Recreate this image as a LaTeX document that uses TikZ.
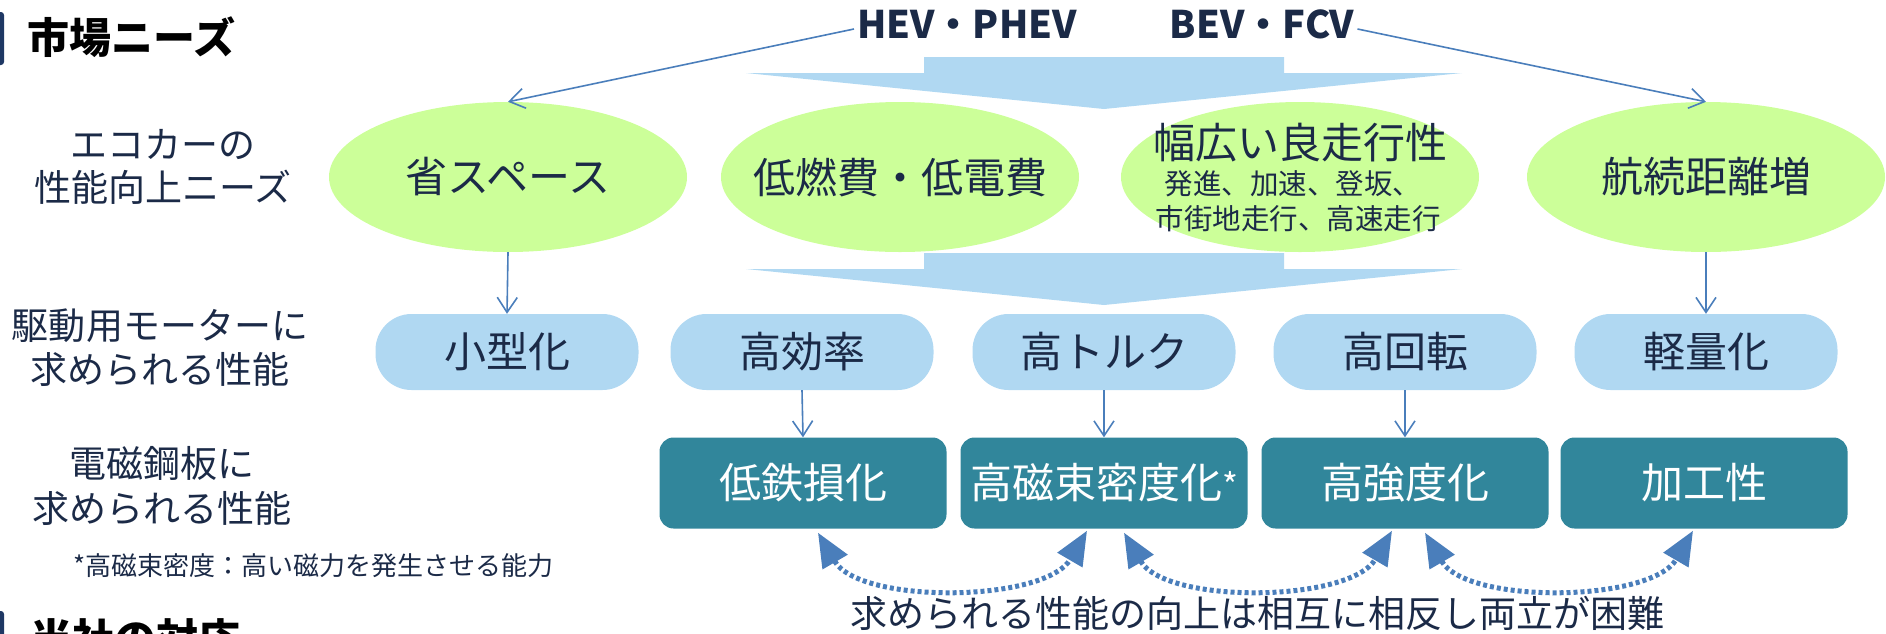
\documentclass[tikz,border=0pt]{standalone}
\usepackage{fontspec}
\setmainfont{Noto Sans CJK JP}
\usetikzlibrary{arrows.meta,shapes.geometric}
\definecolor{txt}{HTML}{1B2A47}
\definecolor{lgreen}{HTML}{CCFF99}
\definecolor{lblue}{HTML}{B0D8F2}
\definecolor{tealbox}{HTML}{31869B}
\definecolor{lineblue}{HTML}{4A7EBB}
\definecolor{barblue}{HTML}{1F3864}
\newcommand{\fsz}[2]{\fontsize{#1}{#2}\selectfont}
\begin{document}
\begin{tikzpicture}[x=1pt,y=-1pt,
  ell/.style={ellipse, fill=lgreen, minimum width=358pt, minimum height=150pt, inner sep=0pt, text=txt, font={\fsz{42}{50}}},
  pill/.style={rectangle, rounded corners=36pt, fill=lblue, minimum width=263pt, minimum height=76pt, inner sep=0pt, text=txt, font={\fsz{42}{50}}},
  tbox/.style={rectangle, rounded corners=14pt, fill=tealbox, minimum width=287pt, minimum height=91pt, inner sep=0pt, text=white, font={\fsz{42}{50}}},
  conn/.style={draw=lineblue, line width=1.6pt, -{Straight Barb[length=15pt,width=20pt]}},
  dotarr/.style={draw=lineblue, line width=5pt, dash pattern=on 4pt off 3pt, {Triangle[length=34pt,width=28pt]}-{Triangle[length=34pt,width=28pt]}},
  lbl/.style={text=txt, font={\fsz{37}{43}}, align=center, inner sep=0pt},
  bigarrow/.style={fill=lblue}
]
\useasboundingbox (0,0) rectangle (1886,633);

% heading bars
\fill[barblue, rounded corners=3pt] (-10,12) rectangle (4,65);
\node[anchor=west, inner sep=0pt, font={\fsz{42}{50}\bfseries}, text=black] (head1) at (27,37) {市場ニーズ};
\begin{scope}
\clip (0,0) rectangle (1886,633);
\fill[barblue, rounded corners=3pt] (-10,611) rectangle (4,670);
\node[anchor=west, inner sep=0pt, font={\fsz{42}{50}\bfseries}, text=black] (head2) at (30,639) {当社の対応};
\end{scope}

% big arrows
\fill[bigarrow] (924,57) -- (1284,57) -- (1284,73) -- (1462,73) -- (1104,109) -- (746,73) -- (924,73) -- cycle;
\fill[bigarrow] (924,253) -- (1284,253) -- (1284,269) -- (1462,269) -- (1104,305) -- (746,269) -- (924,269) -- cycle;

% top labels
\node[font={\fsz{38}{46}\bfseries}, text=txt, inner sep=3pt] (hev) at (967,24) {HEV・PHEV};
\node[font={\fsz{38}{46}\bfseries}, text=txt, inner sep=3pt] (bev) at (1262,24) {BEV・FCV};

% ellipses
\node[ell] (e1) at (508,177) {省スペース};
\node[ell] (e2) at (900,177) {\makebox[0pt]{低燃費・低電費}};
\node[ell] (e3) at (1300,177) {};
\node[ell] (e4) at (1706,177) {\makebox[0pt]{航続距離増}};
\node[text=txt, font={\fsz{42}{50}}, inner sep=0pt] (t3a) at (1300,143) {幅広い良走行性};
\node[text=txt, font={\fsz{28.5}{34}}, inner sep=0pt] (t3b) at (1293,184) {発進、加速、登坂、};
\node[text=txt, font={\fsz{28.5}{34}}, inner sep=0pt] (t3c) at (1298,219) {市街地走行、高速走行};

% pills
\node[pill] (p1) at (507,352) {小型化};
\node[pill] (p2) at (802,352) {高効率};
\node[pill] (p3) at (1104,352) {高トルク};
\node[pill] (p4) at (1405,352) {高回転};
\node[pill] (p5) at (1706,352) {軽量化};

% teal boxes
\node[tbox] (b1) at (803,483) {低鉄損化};
\node[tbox] (b2) at (1104,483) {高磁束密度化{\fsz{34}{40}*}};
\node[tbox] (b3) at (1405,483) {高強度化};
\node[tbox] (b4) at (1704,483) {加工性};

% left labels
\node[lbl] (l1) at (163,167) {エコカーの\\性能向上ニーズ};
\node[lbl, font={\fsz{37}{44}}] (l2) at (160,348) {駆動用モーターに\\求められる性能};
\node[lbl, font={\fsz{37}{45}}] (l3) at (162,486) {電磁鋼板に\\求められる性能};
\node[anchor=west, inner sep=0pt, text=txt, font={\fsz{26}{30}}] (foot) at (73,566) {*高磁束密度：高い磁力を発生させる能力};
\node[inner sep=0pt, text=txt, font={\fsz{37}{44}}] (bottom) at (1257,613) {求められる性能の向上は相互に相反し両立が困難};

% connectors
\draw[conn] ([yshift=-5pt]hev.west) -- (e1.north);
\draw[conn] ([yshift=-5pt]bev.east) -- (e4.north);
\draw[conn] (e1.south) -- (p1.north);
\draw[conn] (e4.south) -- (p5.north);
\draw[conn] (p2.south) -- (b1.north);
\draw[conn] (p3.south) -- (b2.north);
\draw[conn] (p4.south) -- (b3.north);

% trade-off arrows
\coordinate (a1) at ([xshift=15pt]b1.south);
\coordinate (a2) at ([xshift=-17pt]b2.south);
\coordinate (a3) at ([xshift=20pt]b2.south);
\coordinate (a4) at ([xshift=-13pt]b3.south);
\coordinate (a5) at ([xshift=20pt]b3.south);
\coordinate (a6) at ([xshift=-11pt]b4.south);
\draw[dotarr] ([yshift=-4pt]a1) .. controls +(42,72) and +(-42,72) .. ([yshift=-2pt]a2);
\draw[dotarr] ([yshift=-4pt]a3) .. controls +(42,72) and +(-42,72) .. ([yshift=-2pt]a4);
\draw[dotarr] ([yshift=-4pt]a5) .. controls +(42,72) and +(-42,72) .. ([yshift=-2pt]a6);
\end{tikzpicture}
\end{document}
